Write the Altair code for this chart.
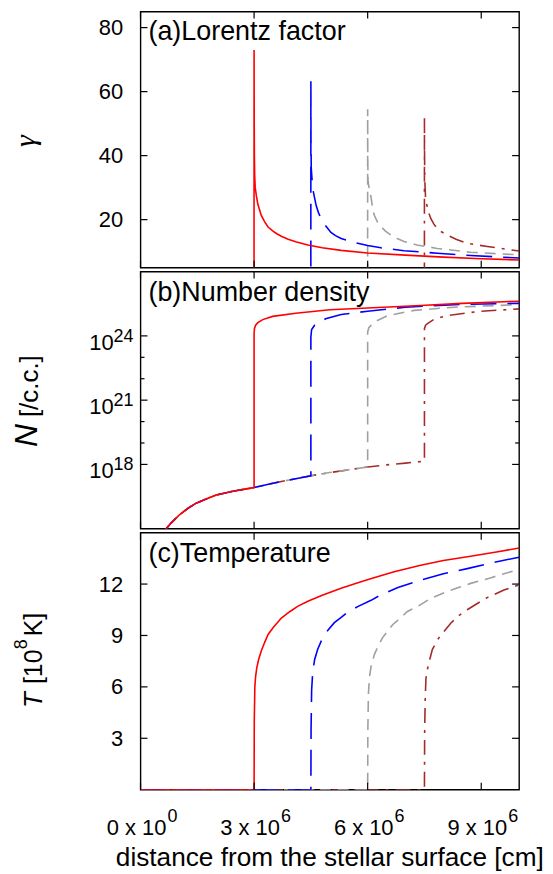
import altair as alt
import pandas as pd

FONT = "Liberation Sans"
W = 380
H_A, H_B, H_C = 257, 258, 258
XMAX = 1.0e7

# ---------------- data (x in units of 10^6 cm) ----------------
# (a) Lorentz factor gamma (upstream value 1 lies below the axis range)
red_g_x = [0, 2.999, 3.0, 3.003, 3.008, 3.016, 3.03, 3.06, 3.1, 3.19, 3.28, 3.37, 3.5, 3.6, 3.72, 3.9, 4.1, 4.42, 4.8, 5.3, 6.0, 7.0, 8.0, 9.0, 10.0]
red_g = [1, 1, 73, 52, 40, 33.7, 30, 27.5, 24.8, 21.3, 19.3, 17.7, 16.4, 15.6, 14.8, 13.9, 13.1, 12.1, 11.2, 10.4, 9.6, 8.9, 8.3, 7.8, 7.4]
blue_g_x = [0, 4.499, 4.5, 4.503, 4.51, 4.55, 4.64, 4.7, 4.77, 4.9, 5.03, 5.15, 5.3, 5.6, 6.0, 6.35, 6.96, 7.84, 8.72, 10.0]
blue_g = [1, 1, 63.2, 45, 36, 29.6, 24.4, 22.2, 20.3, 17.9, 16.0, 15.0, 14.1, 13.0, 11.9, 11.2, 10.3, 9.5, 8.8, 8.0]
gray_g_x = [0, 5.999, 6.0, 6.003, 6.01, 6.05, 6.09, 6.13, 6.17, 6.26, 6.35, 6.47, 6.61, 6.78, 6.96, 7.3, 7.84, 8.72, 10.0]
gray_g = [1, 1, 54.5, 40, 32, 29, 27, 23.5, 21.5, 19.2, 17.8, 16.4, 15.2, 14.1, 13.2, 12.1, 11.0, 9.8, 9.0]
brown_g_x = [0, 7.499, 7.5, 7.503, 7.51, 7.53, 7.6, 7.67, 7.75, 7.84, 7.95, 8.1, 8.35, 8.63, 9.16, 10.0]
brown_g = [1, 1, 51.7, 40, 32, 26.5, 22.5, 20.3, 18.6, 17.2, 16.2, 15.2, 13.8, 12.6, 11.6, 10.2]

# (b) Number density, log10 N [/c.c.]
up_n_x = [0.6, 0.68, 0.8, 1.03, 1.25, 1.47, 1.75, 2.0, 2.44, 3.0, 3.5, 4.0, 4.5, 5.0, 5.5, 6.0, 6.5, 7.0, 7.5]
up_n = [14.5, 15.0, 15.25, 15.65, 15.95, 16.19, 16.4, 16.57, 16.75, 16.92, 17.12, 17.3, 17.47, 17.62, 17.75, 17.88, 17.98, 18.06, 18.15]
red_n_x = [3.0, 3.01, 3.04, 3.1, 3.23, 3.49, 4.1, 5.0, 6.0, 7.4, 8.5, 10.0]
red_n = [24.1, 24.35, 24.5, 24.62, 24.76, 24.91, 25.06, 25.22, 25.3, 25.42, 25.52, 25.62]
blue_n_x = [4.5, 4.52, 4.6, 4.77, 4.89, 5.3, 6.0, 7.0, 8.3, 10.0]
blue_n = [23.95, 24.3, 24.5, 24.68, 24.8, 25.0, 25.15, 25.34, 25.46, 25.52]
gray_n_x = [6.0, 6.03, 6.09, 6.22, 6.53, 7.23, 8.28, 10.0]
gray_n = [24.18, 24.38, 24.49, 24.69, 24.95, 25.19, 25.34, 25.46]
brown_n_x = [7.5, 7.53, 7.58, 7.75, 8.1, 8.98, 10.0]
brown_n = [24.34, 24.5, 24.57, 24.77, 24.95, 25.15, 25.26]

# (c) Temperature [10^8 K]
red_t_x = [0, 3.0, 3.005, 3.02, 3.04, 3.07, 3.12, 3.19, 3.28, 3.37, 3.5, 3.72, 3.95, 4.15, 4.42, 4.8, 5.3, 5.7, 6.1, 6.7, 7.4, 8.0, 8.72, 9.4, 10.0]
red_t = [0, 0, 4.0, 6.0, 6.6, 7.1, 7.6, 8.1, 8.6, 9.06, 9.45, 10.02, 10.4, 10.7, 11.0, 11.35, 11.75, 12.05, 12.32, 12.72, 13.1, 13.38, 13.62, 13.87, 14.1]
blue_t_x = [0, 4.5, 4.505, 4.52, 4.55, 4.6, 4.68, 4.82, 4.95, 5.12, 5.3, 5.47, 5.75, 6.09, 6.35, 6.8, 7.4, 8.0, 8.63, 9.3, 10.0]
blue_t = [0, 0, 3.5, 5.8, 6.9, 7.6, 8.2, 8.9, 9.3, 9.75, 10.05, 10.35, 10.7, 11.05, 11.37, 11.8, 12.23, 12.6, 12.9, 13.25, 13.57]
gray_t_x = [0, 6.0, 6.005, 6.02, 6.05, 6.09, 6.18, 6.26, 6.39, 6.66, 6.88, 7.05, 7.32, 7.67, 8.1, 8.4, 8.72, 9.24, 9.6, 10.0]
gray_t = [0, 0, 3.5, 5.6, 6.6, 7.2, 7.9, 8.3, 8.86, 9.63, 10.05, 10.4, 10.69, 11.17, 11.56, 11.8, 12.04, 12.36, 12.6, 12.86]
brown_t_x = [0, 7.5, 7.505, 7.52, 7.54, 7.58, 7.64, 7.71, 7.8, 7.88, 8.2, 8.4, 8.63, 8.98, 9.16, 9.6, 10.0]
brown_t = [0, 0, 3.3, 5.3, 6.5, 7.04, 7.6, 8.19, 8.55, 8.86, 9.73, 10.15, 10.5, 10.98, 11.21, 11.65, 11.96]

shock_x = {"red": 3.0, "blue": 4.5, "gray": 6.0, "brown": 7.5}

# ticks / labels
x_ticks = [0, 3e6, 6e6, 9e6]
x_tick_main = ["0 x 10", "3 x 10", "6 x 10", "9 x 10"]
x_tick_exp = ["0", "6", "6", "6"]
g_ticks = [20, 40, 60, 80]
t_ticks = [3, 6, 9, 12]
n_major = [1e18, 1e21, 1e24]
n_major_exp = ["18", "21", "24"]
n_minor = [1e19, 1e20, 1e22, 1e23]
panel_titles = ["(a)Lorentz factor", "(b)Number density", "(c)Temperature"]
x_title = "distance from the stellar surface [cm]"

STYLE = {
    "brown": ("#a52a2a", [15, 7, 3, 7]),
    "gray": ("#a0a0a0", [11, 7]),
    "blue": ("#0000ff", [26, 11]),
    "red": ("#ff0000", None),
}
ORDER = ["brown", "gray", "blue", "red"]


def frame(xs, ys, log=False):
    return pd.DataFrame({
        "x": [v * 1e6 for v in xs],
        "y": [10 ** v if log else v for v in ys],
        "i": list(range(len(xs))),
    })


def up_part(name):
    xs = [x for x in up_n_x if x <= shock_x[name]]
    ys = up_n[: len(xs)]
    return xs, ys


gamma_data = {"red": (red_g_x, red_g), "blue": (blue_g_x, blue_g),
              "gray": (gray_g_x, gray_g), "brown": (brown_g_x, brown_g)}
temp_data = {"red": (red_t_x, red_t), "blue": (blue_t_x, blue_t),
             "gray": (gray_t_x, gray_t), "brown": (brown_t_x, brown_t)}
dens_down = {"red": (red_n_x, red_n), "blue": (blue_n_x, blue_n),
             "gray": (gray_n_x, gray_n), "brown": (brown_n_x, brown_n)}

xscale = alt.Scale(domain=[0, XMAX], nice=False, zero=False)


def X():
    return alt.X("x:Q", scale=xscale, axis=None)


def lines(data_by_series, yfun):
    layers = []
    for name in ORDER:
        xs, ys, log = data_by_series[name]
        color, dash = STYLE[name]
        kw = dict(color=color, strokeWidth=1.6, clip=True)
        if dash:
            kw["strokeDash"] = dash
        layers.append(
            alt.Chart(frame(xs, ys, log)).mark_line(**kw).encode(
                x=X(), y=yfun(), order="i:Q")
        )
    return layers


def tick_layers(yfun, h, yvals, minor=None, tl=7):
    """Inward ticks drawn inside the frame (gnuplot style), mirrored on all sides."""
    lay = []
    xt = pd.DataFrame({"x": x_ticks})
    rk = dict(color="black", strokeWidth=1.2)
    lay.append(alt.Chart(xt).mark_rule(**rk).encode(x=X(), y=alt.value(0), y2=alt.value(tl)))
    lay.append(alt.Chart(xt).mark_rule(**rk).encode(x=X(), y=alt.value(h - tl), y2=alt.value(h)))
    yt = pd.DataFrame({"y": yvals})
    lay.append(alt.Chart(yt).mark_rule(**rk).encode(y=yfun(), x=alt.value(0), x2=alt.value(tl)))
    lay.append(alt.Chart(yt).mark_rule(**rk).encode(y=yfun(), x=alt.value(W - tl), x2=alt.value(W)))
    if minor:
        ym = pd.DataFrame({"y": minor})
        lay.append(alt.Chart(ym).mark_rule(**rk).encode(y=yfun(), x=alt.value(0), x2=alt.value(4)))
        lay.append(alt.Chart(ym).mark_rule(**rk).encode(y=yfun(), x=alt.value(W - 4), x2=alt.value(W)))
    return lay


def ptitle(text):
    return alt.Chart(pd.DataFrame({"t": [text]})).mark_text(
        align="left", baseline="alphabetic", font=FONT, fontSize=27, color="black"
    ).encode(x=alt.value(8), y=alt.value(29), text="t:N")


def rot_text(text, x, y, size, italic=False, family=FONT):
    kw = dict(align="left", baseline="alphabetic", angle=270, font=family,
              fontSize=size, color="black")
    if italic:
        kw["fontStyle"] = "italic"
    return alt.Chart(pd.DataFrame({"t": [text]})).mark_text(**kw).encode(
        x=alt.value(x), y=alt.value(y), text="t:N")


lab_axis = dict(ticks=False, domain=False, grid=False, tickSize=0, labelPadding=18,
                labelFont=FONT, labelFontSize=22, labelColor="black", title=None)

# ---------------- panel (a) ----------------
ya_scale = alt.Scale(domain=[5, 85], nice=False, zero=False)


def ya():
    return alt.Y("y:Q", scale=ya_scale, axis=alt.Axis(values=g_ticks, **lab_axis))


pa_layers = lines({k: (v[0], v[1], False) for k, v in gamma_data.items()}, ya)
pa_layers += tick_layers(ya, H_A, g_ticks)
pa_layers += [ptitle(panel_titles[0]),
              rot_text("γ", -106, 136, 30, italic=True, family="Liberation Serif")]
panel_a = alt.layer(*pa_layers).properties(width=W, height=H_A)

# ---------------- panel (b) ----------------
yb_scale = alt.Scale(type="log", domain=[1e15, 1e27], nice=False)


def yb():
    return alt.Y("y:Q", scale=yb_scale, axis=None)


dens_data = {}
for name in ORDER:
    ux, uy = up_part(name)
    dx, dy = dens_down[name]
    dens_data[name] = (ux + dx, uy + dy, True)

pb_layers = lines(dens_data, yb)
pb_layers += tick_layers(yb, H_B, n_major, minor=n_minor)
nl = pd.DataFrame({"y": n_major, "m": ["10"] * 3, "e": n_major_exp})
pb_layers += [
    alt.Chart(nl).mark_text(align="right", baseline="alphabetic", dy=14, font=FONT,
                            fontSize=22, color="black").encode(x=alt.value(-27), y=yb(), text="m:N"),
    alt.Chart(nl).mark_text(align="right", baseline="alphabetic", dy=6, font=FONT,
                            fontSize=18, color="black").encode(x=alt.value(-7), y=yb(), text="e:N"),
    ptitle(panel_titles[1]),
    rot_text("N", -104, 176, 32, italic=True),
    rot_text("[/c.c.]", -103, 146, 26),
]
panel_b = alt.layer(*pb_layers).properties(width=W, height=H_B)

# ---------------- panel (c) ----------------
yc_scale = alt.Scale(domain=[0, 15], nice=False, zero=False)


def yc():
    return alt.Y("y:Q", scale=yc_scale, axis=alt.Axis(values=t_ticks, **lab_axis))


pc_layers = lines({k: (v[0], v[1], False) for k, v in temp_data.items()}, yc)
pc_layers += tick_layers(yc, H_C, t_ticks)
xl = pd.DataFrame({"x": x_ticks, "m": x_tick_main, "e": x_tick_exp})
pc_layers += [
    alt.Chart(xl).mark_text(align="right", baseline="alphabetic", dx=26, font=FONT,
                            fontSize=22, color="black").encode(x=X(), y=alt.value(H_C + 45), text="m:N"),
    alt.Chart(xl).mark_text(align="left", baseline="alphabetic", dx=27, font=FONT,
                            fontSize=18, color="black").encode(x=X(), y=alt.value(H_C + 32), text="e:N"),
    alt.Chart(pd.DataFrame({"t": [x_title]})).mark_text(
        align="center", baseline="alphabetic", font=FONT, fontSize=26.3, color="black"
    ).encode(x=alt.value(W / 2), y=alt.value(H_C + 77), text="t:N"),
    ptitle(panel_titles[2]),
    rot_text("T", -99, 176, 26, italic=True),
    rot_text("[10", -99, 152, 25),
    rot_text("8", -114, 117, 18),
    rot_text("K]", -99, 104, 25),
]
panel_c = alt.layer(*pc_layers).properties(width=W, height=H_C)

chart = alt.vconcat(panel_a, panel_b, panel_c, spacing=0).resolve_scale(
    x="independent", y="independent"
).properties(
    padding={"left": 2, "top": 0, "right": 0, "bottom": 0},
    background="white",
).configure_view(stroke="black", strokeWidth=1.4)

chart.save("out.html", embed_options={"renderer": "svg", "actions": False})
